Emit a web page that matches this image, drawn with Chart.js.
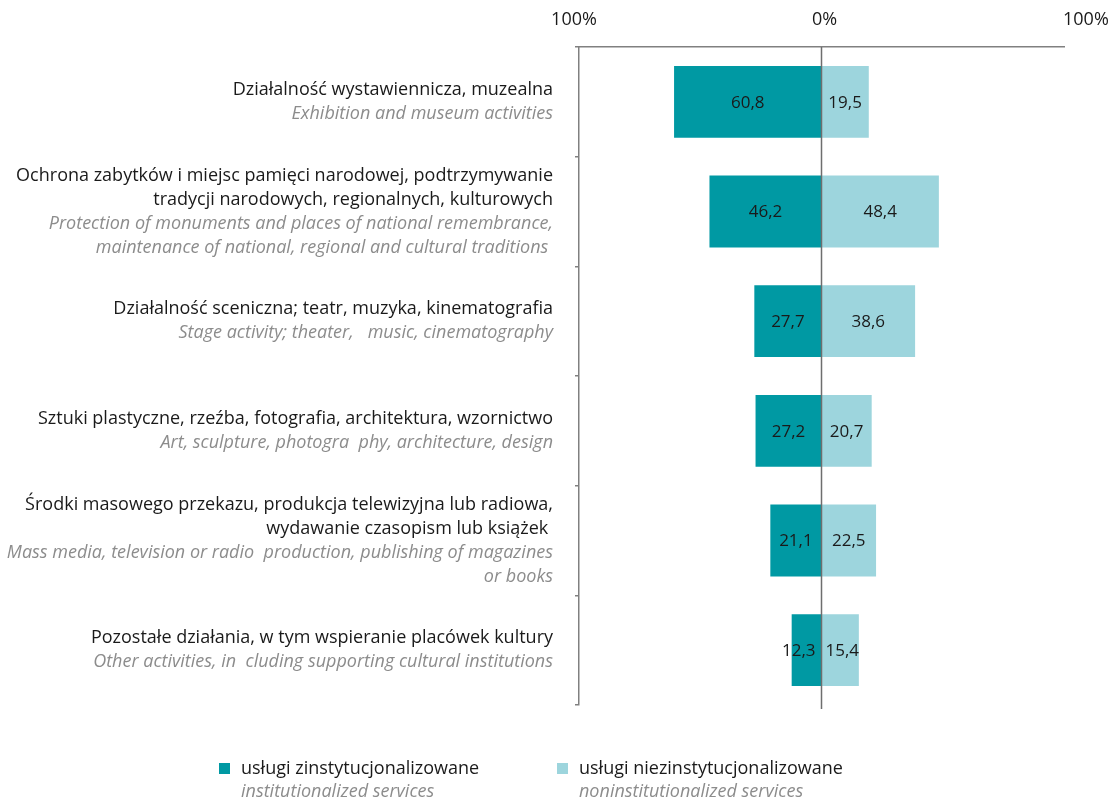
<!DOCTYPE html>
<html>
<head>
<meta charset="utf-8">
<script src="https://cdn.jsdelivr.net/npm/chart.js@4.4.1/dist/chart.umd.min.js"></script>
<style>
  html, body { margin: 0; padding: 0; background: #ffffff; }
  #wrap { width: 1109px; height: 799px; position: relative; }
</style>
</head>
<body>
<div id="wrap"><canvas id="c" width="1109" height="799"></canvas></div>
<script>
// Category names: Polish lines (black) and English lines (grey italic)
const categoriesPL = [
  ['Działalność wystawiennicza, muzealna'],
  ['Ochrona zabytków i miejsc pamięci narodowej, podtrzymywanie', 'tradycji narodowych, regionalnych, kulturowych'],
  ['Działalność sceniczna; teatr, muzyka, kinematografia'],
  ['Sztuki plastyczne, rzeźba, fotografia, architektura, wzornictwo'],
  ['Środki masowego przekazu, produkcja telewizyjna lub radiowa,', 'wydawanie czasopism lub książek '],
  ['Pozostałe działania, w tym wspieranie placówek kultury']
];
const categoriesEN = [
  ['Exhibition and museum activities'],
  ['Protection of monuments and places of national remembrance,', 'maintenance of national, regional and cultural traditions '],
  ['Stage activity; theater,   music, cinematography'],
  ['Art, sculpture, photogra  phy, architecture, design'],
  ['Mass media, television or radio  production, publishing of magazines', 'or books'],
  ['Other activities, in  cluding supporting cultural institutions']
];

// Shares (%) of each service type
const institutional = [60.8, 46.2, 27.7, 27.2, 21.1, 12.3];
const noninstitutional = [19.5, 48.4, 38.6, 20.7, 22.5, 15.4];

// Series names
const seriesNamesPL = ['usługi zinstytucjonalizowane', 'usługi niezinstytucjonalizowane'];
const seriesNamesEN = ['institutionalized services', 'noninstitutionalized services'];

// Value axis ticks
const axisTicks = [-100, 0, 100];
const axisTickLabels = ['100%', '0%', '100%'];

const COLOR_DARK = '#0099a3';
const COLOR_LIGHT = '#9dd5dd';
const TEXT = '#1a1a1a';
const TEXT_EN = '#8c8c8c';
const AXIS = '#808080';
const FONT = '"Open Sans", "DejaVu Sans", sans-serif';

const fmt = v => v.toFixed(1).replace('.', ',');

const decor = {
  id: 'decor',
  afterDatasetsDraw(chart) {
    const { ctx, chartArea, scales: { x, y } } = chart;
    ctx.save();

    // zero line across the plot
    const x0 = x.getPixelForValue(0);
    ctx.strokeStyle = '#6e6e6e';
    ctx.lineWidth = 1.5;
    ctx.beginPath();
    ctx.moveTo(x0, chartArea.top);
    ctx.lineTo(x0, chartArea.bottom + 4);
    ctx.stroke();

    // value labels inside the bars
    ctx.font = '17px ' + FONT;
    ctx.fillStyle = TEXT;
    ctx.textBaseline = 'middle';
    ctx.textAlign = 'center';
    chart.data.datasets.forEach((ds, d) => {
      const meta = chart.getDatasetMeta(d);
      meta.data.forEach((bar, i) => {
        const txt = fmt(Math.abs(ds.data[i]));
        const w = ctx.measureText(txt).width;
        let cx = (bar.x + bar.base) / 2;
        if (d === 0) cx = Math.min(cx, x0 - 6 - w / 2);
        else cx = Math.max(cx, x0 + 4 + w / 2);
        ctx.fillText(txt, cx, bar.y + 1);
      });
    });

    // value axis labels above the top line
    ctx.font = '18px ' + FONT;
    axisTicks.forEach((v, i) => {
      let px = x.getPixelForValue(v);
      if (i === axisTicks.length - 1) { ctx.textAlign = 'left'; px = px - 1; }
      else if (i === 0) { ctx.textAlign = 'center'; px = px - 5; }
      else { ctx.textAlign = 'center'; px = px + 3; }
      ctx.fillText(axisTickLabels[i], px, 20);
    });

    // category labels, right aligned left of the axis
    ctx.textAlign = 'right';
    const lh = 24;
    categoriesPL.forEach((pl, i) => {
      const en = categoriesEN[i];
      const n = pl.length + en.length;
      const cy = y.getPixelForValue(i);
      let ly = cy - (n - 1) * lh / 2;
      ctx.fillStyle = TEXT;
      ctx.font = '18px ' + FONT;
      pl.forEach(t => { ctx.fillText(t, 553, ly); ly += lh; });
      ctx.fillStyle = TEXT_EN;
      ctx.font = 'italic 18px ' + FONT;
      en.forEach(t => { ctx.fillText(t, 553, ly); ly += lh; });
    });

    // legend
    const legendX = [219, 557];
    ctx.textAlign = 'left';
    chart.data.datasets.forEach((ds, d) => {
      const lx = legendX[d];
      ctx.fillStyle = ds.backgroundColor;
      ctx.fillRect(lx, 763, 11, 11);
      ctx.fillStyle = TEXT;
      ctx.font = '18px ' + FONT;
      ctx.fillText(seriesNamesPL[d], lx + 22, 769);
      ctx.fillStyle = TEXT_EN;
      ctx.font = 'italic 18px ' + FONT;
      ctx.fillText(seriesNamesEN[d], lx + 22, 792);
    });

    ctx.restore();
  }
};

new Chart(document.getElementById('c'), {
  type: 'bar',
  data: {
    labels: categoriesPL.map(l => l.join(' ')),
    datasets: [
      {
        label: seriesNamesPL[0],
        data: institutional.map(v => -v),
        backgroundColor: COLOR_DARK,
        borderWidth: 0,
        categoryPercentage: 0.655,
        barPercentage: 1
      },
      {
        label: seriesNamesPL[1],
        data: noninstitutional,
        backgroundColor: COLOR_LIGHT,
        borderWidth: 0,
        categoryPercentage: 0.655,
        barPercentage: 1
      }
    ]
  },
  options: {
    indexAxis: 'y',
    responsive: false,
    animation: false,
    devicePixelRatio: 1,
    layout: { padding: { left: 579, right: 45, top: 47, bottom: 94 } },
    plugins: { legend: { display: false }, tooltip: { enabled: false } },
    scales: {
      x: {
        type: 'linear',
        position: 'top',
        min: -100,
        max: 100,
        stacked: true,
        ticks: { display: false },
        grid: { display: false },
        border: { display: true, color: AXIS, width: 1.5 },
        afterFit(s) { s.height = 0; }
      },
      y: {
        type: 'category',
        position: 'left',
        stacked: true,
        offset: true,
        ticks: { display: false },
        grid: {
          display: true,
          offset: true,
          drawOnChartArea: false,
          drawTicks: true,
          tickLength: 4,
          color: AXIS,
          lineWidth: 1.5
        },
        border: { display: true, color: AXIS, width: 1.5 },
        afterFit(s) { s.width = 0; }
      }
    }
  },
  plugins: [decor]
});
</script>
</body>
</html>
